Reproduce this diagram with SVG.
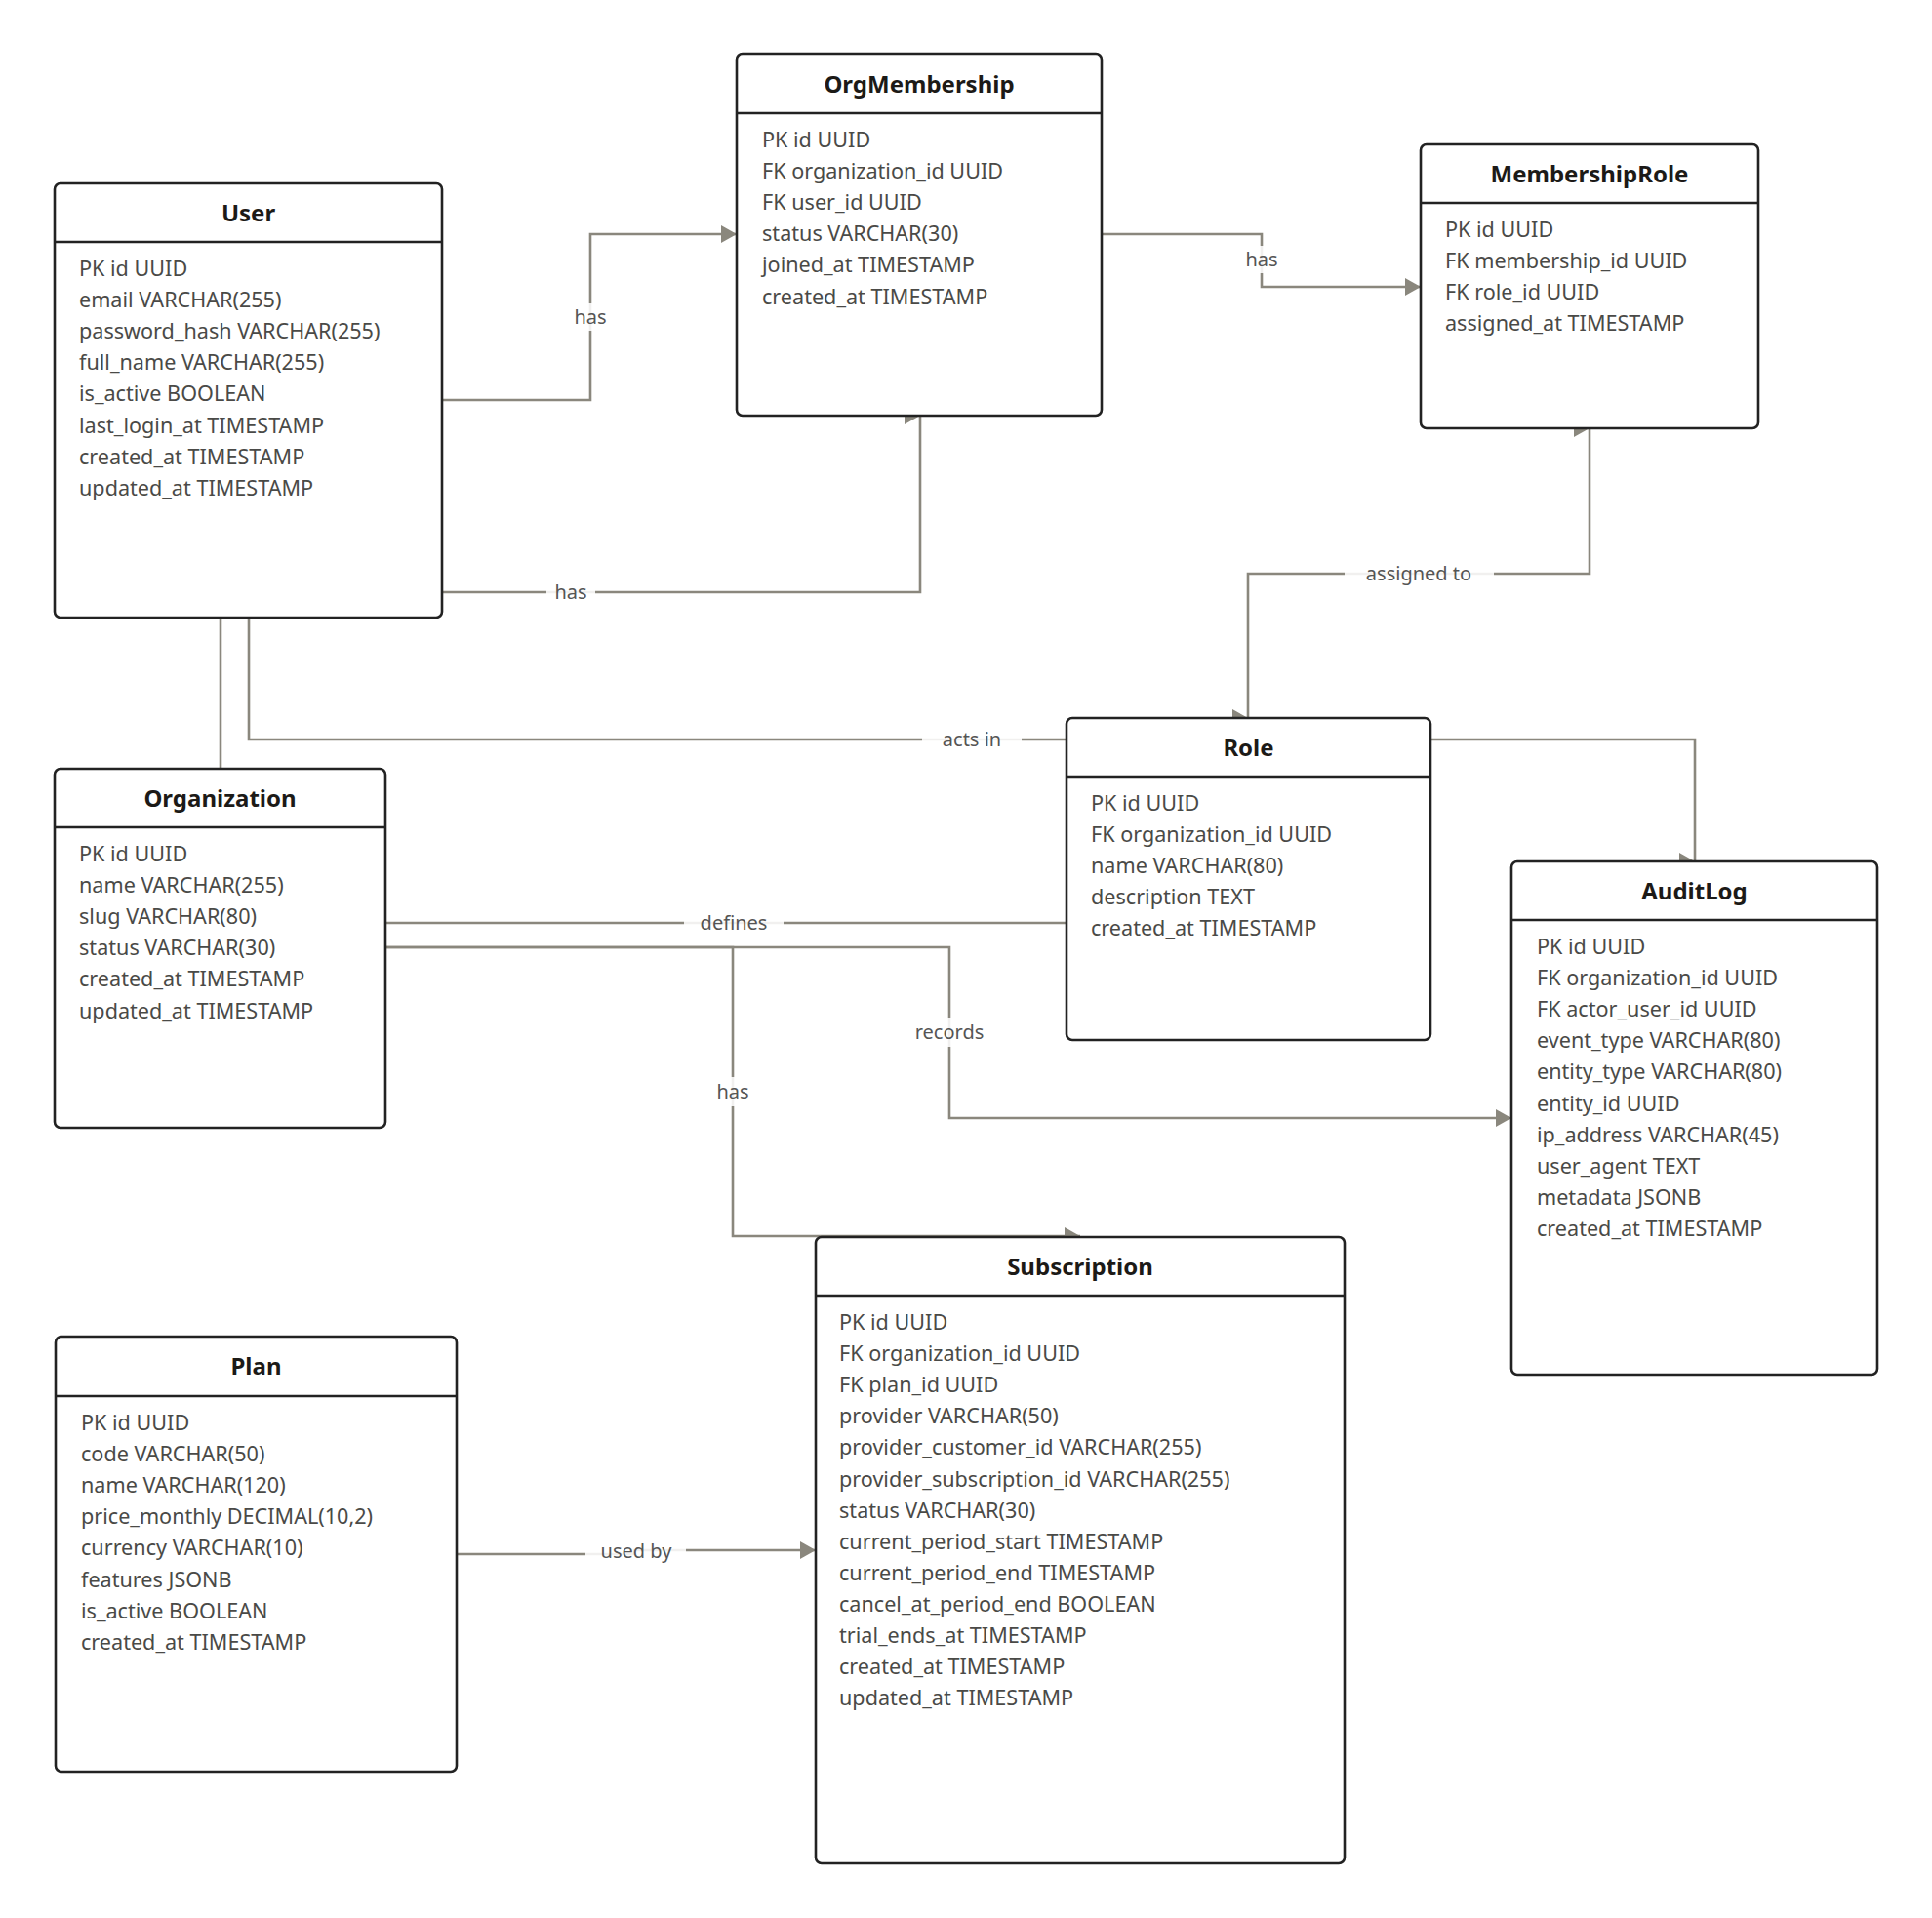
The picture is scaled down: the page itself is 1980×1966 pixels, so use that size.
<svg xmlns="http://www.w3.org/2000/svg" width="1980" height="1966" viewBox="0 0 1980 1966">
<style>
.box{fill:#fff;stroke:#222;stroke-width:2.6}
.hdr{stroke:#222;stroke-width:2.6}
.title{font-family:"Noto Sans","Liberation Sans",sans-serif;font-size:24px;font-weight:bold;fill:#1c1a17;text-anchor:middle}
.row{font-family:"Noto Sans","Liberation Sans",sans-serif;font-size:21.6px;fill:#4a4a47}
.conn{fill:none;stroke:#8a877d;stroke-width:2.6}
.lblbg{fill:#fff;fill-opacity:0.88}
.lbl{font-family:"Noto Sans","Liberation Sans",sans-serif;font-size:20px;fill:#555;text-anchor:middle}
</style>
<defs>
<marker id="arr" viewBox="0 0 16 18" refX="16" refY="9" markerWidth="16" markerHeight="18" markerUnits="userSpaceOnUse" orient="auto"><path d="M0,0 L16,9 L0,18 z" fill="#8a877d"/></marker>
<marker id="arrR" viewBox="0 0 16 18" refX="16" refY="9" markerWidth="16" markerHeight="18" markerUnits="userSpaceOnUse" orient="0"><path d="M0,0 L16,9 L0,18 z" fill="#8a877d"/></marker>
</defs>
<rect width="1980" height="1966" fill="#fff"/>
<g id="connectors">
<path class="conn" d="M453,410 H605 V240 H755" marker-end="url(#arr)"/>
<path class="conn" d="M453,607 H943 V426" marker-end="url(#arrR)"/>
<path class="conn" d="M1129,240 H1293 V294 H1456" marker-end="url(#arr)"/>
<path class="conn" d="M1629,439 V588 H1279 V736" marker-start="url(#arrR)" marker-end="url(#arrR)"/>
<path class="conn" d="M255,633 V758 H1737 V883" marker-end="url(#arrR)"/>
<path class="conn" d="M226,633 V788"/>
<path class="conn" d="M395,946 H1093"/>
<path class="conn" d="M395,971 H973 V1146 H1549" marker-end="url(#arr)"/>
<path class="conn" d="M395,971 H751 V1267 H1107" marker-end="url(#arr)"/>
<path class="conn" d="M468,1593 H650 V1589 H836" marker-end="url(#arr)"/>
<rect class="lblbg" x="585" y="311" width="40" height="28"/><text class="lbl" x="605" y="332">has</text>
<rect class="lblbg" x="560" y="595" width="50" height="24"/><text class="lbl" x="585" y="614">has</text>
<rect class="lblbg" x="1273" y="252" width="40" height="28"/><text class="lbl" x="1293" y="273">has</text>
<rect class="lblbg" x="1378" y="576" width="153" height="24"/><text class="lbl" x="1454" y="595">assigned to</text>
<rect class="lblbg" x="945" y="746" width="102" height="24"/><text class="lbl" x="996" y="765">acts in</text>
<rect class="lblbg" x="701" y="934" width="102" height="24"/><text class="lbl" x="752" y="953">defines</text>
<rect class="lblbg" x="938" y="1043" width="70" height="30"/><text class="lbl" x="973" y="1065">records</text>
<rect class="lblbg" x="731" y="1104" width="40" height="30"/><text class="lbl" x="751" y="1126">has</text>
<rect class="lblbg" x="600" y="1579" width="103" height="24"/><text class="lbl" x="652" y="1597">used by</text>
</g>
<g id="User">
<rect class="box" x="56" y="188" width="397" height="445" rx="6"/>
<line class="hdr" x1="56" y1="248" x2="453" y2="248"/>
<text class="title" x="254.5" y="227">User</text>
<text class="row" x="81" y="283"><tspan x="81">PK id UUID</tspan><tspan x="81" dy="32.1">email VARCHAR(255)</tspan><tspan x="81" dy="32.1">password_hash VARCHAR(255)</tspan><tspan x="81" dy="32.1">full_name VARCHAR(255)</tspan><tspan x="81" dy="32.1">is_active BOOLEAN</tspan><tspan x="81" dy="32.1">last_login_at TIMESTAMP</tspan><tspan x="81" dy="32.1">created_at TIMESTAMP</tspan><tspan x="81" dy="32.1">updated_at TIMESTAMP</tspan></text>
</g>
<g id="OrgMembership">
<rect class="box" x="755" y="55" width="374" height="371" rx="6"/>
<line class="hdr" x1="755" y1="116" x2="1129" y2="116"/>
<text class="title" x="942" y="95">OrgMembership</text>
<text class="row" x="781" y="151"><tspan x="781">PK id UUID</tspan><tspan x="781" dy="32.1">FK organization_id UUID</tspan><tspan x="781" dy="32.1">FK user_id UUID</tspan><tspan x="781" dy="32.1">status VARCHAR(30)</tspan><tspan x="781" dy="32.1">joined_at TIMESTAMP</tspan><tspan x="781" dy="32.1">created_at TIMESTAMP</tspan></text>
</g>
<g id="MembershipRole">
<rect class="box" x="1456" y="148" width="346" height="291" rx="6"/>
<line class="hdr" x1="1456" y1="208" x2="1802" y2="208"/>
<text class="title" x="1629" y="187">MembershipRole</text>
<text class="row" x="1481" y="243"><tspan x="1481">PK id UUID</tspan><tspan x="1481" dy="32.1">FK membership_id UUID</tspan><tspan x="1481" dy="32.1">FK role_id UUID</tspan><tspan x="1481" dy="32.1">assigned_at TIMESTAMP</tspan></text>
</g>
<g id="Organization">
<rect class="box" x="56" y="788" width="339" height="368" rx="6"/>
<line class="hdr" x1="56" y1="848" x2="395" y2="848"/>
<text class="title" x="225.5" y="827">Organization</text>
<text class="row" x="81" y="883"><tspan x="81">PK id UUID</tspan><tspan x="81" dy="32.1">name VARCHAR(255)</tspan><tspan x="81" dy="32.1">slug VARCHAR(80)</tspan><tspan x="81" dy="32.1">status VARCHAR(30)</tspan><tspan x="81" dy="32.1">created_at TIMESTAMP</tspan><tspan x="81" dy="32.1">updated_at TIMESTAMP</tspan></text>
</g>
<g id="Role">
<rect class="box" x="1093" y="736" width="373" height="330" rx="6"/>
<line class="hdr" x1="1093" y1="796" x2="1466" y2="796"/>
<text class="title" x="1279.5" y="775">Role</text>
<text class="row" x="1118" y="831"><tspan x="1118">PK id UUID</tspan><tspan x="1118" dy="32.1">FK organization_id UUID</tspan><tspan x="1118" dy="32.1">name VARCHAR(80)</tspan><tspan x="1118" dy="32.1">description TEXT</tspan><tspan x="1118" dy="32.1">created_at TIMESTAMP</tspan></text>
</g>
<g id="AuditLog">
<rect class="box" x="1549" y="883" width="375" height="526" rx="6"/>
<line class="hdr" x1="1549" y1="943" x2="1924" y2="943"/>
<text class="title" x="1736.5" y="922">AuditLog</text>
<text class="row" x="1575" y="978"><tspan x="1575">PK id UUID</tspan><tspan x="1575" dy="32.1">FK organization_id UUID</tspan><tspan x="1575" dy="32.1">FK actor_user_id UUID</tspan><tspan x="1575" dy="32.1">event_type VARCHAR(80)</tspan><tspan x="1575" dy="32.1">entity_type VARCHAR(80)</tspan><tspan x="1575" dy="32.1">entity_id UUID</tspan><tspan x="1575" dy="32.1">ip_address VARCHAR(45)</tspan><tspan x="1575" dy="32.1">user_agent TEXT</tspan><tspan x="1575" dy="32.1">metadata JSONB</tspan><tspan x="1575" dy="32.1">created_at TIMESTAMP</tspan></text>
</g>
<g id="Subscription">
<rect class="box" x="836" y="1268" width="542" height="642" rx="6"/>
<line class="hdr" x1="836" y1="1328" x2="1378" y2="1328"/>
<text class="title" x="1107" y="1307">Subscription</text>
<text class="row" x="860" y="1363"><tspan x="860">PK id UUID</tspan><tspan x="860" dy="32.1">FK organization_id UUID</tspan><tspan x="860" dy="32.1">FK plan_id UUID</tspan><tspan x="860" dy="32.1">provider VARCHAR(50)</tspan><tspan x="860" dy="32.1">provider_customer_id VARCHAR(255)</tspan><tspan x="860" dy="32.1">provider_subscription_id VARCHAR(255)</tspan><tspan x="860" dy="32.1">status VARCHAR(30)</tspan><tspan x="860" dy="32.1">current_period_start TIMESTAMP</tspan><tspan x="860" dy="32.1">current_period_end TIMESTAMP</tspan><tspan x="860" dy="32.1">cancel_at_period_end BOOLEAN</tspan><tspan x="860" dy="32.1">trial_ends_at TIMESTAMP</tspan><tspan x="860" dy="32.1">created_at TIMESTAMP</tspan><tspan x="860" dy="32.1">updated_at TIMESTAMP</tspan></text>
</g>
<g id="Plan">
<rect class="box" x="57" y="1370" width="411" height="446" rx="6"/>
<line class="hdr" x1="57" y1="1431" x2="468" y2="1431"/>
<text class="title" x="262.5" y="1409">Plan</text>
<text class="row" x="83" y="1466"><tspan x="83">PK id UUID</tspan><tspan x="83" dy="32.1">code VARCHAR(50)</tspan><tspan x="83" dy="32.1">name VARCHAR(120)</tspan><tspan x="83" dy="32.1">price_monthly DECIMAL(10,2)</tspan><tspan x="83" dy="32.1">currency VARCHAR(10)</tspan><tspan x="83" dy="32.1">features JSONB</tspan><tspan x="83" dy="32.1">is_active BOOLEAN</tspan><tspan x="83" dy="32.1">created_at TIMESTAMP</tspan></text>
</g>
</svg>
